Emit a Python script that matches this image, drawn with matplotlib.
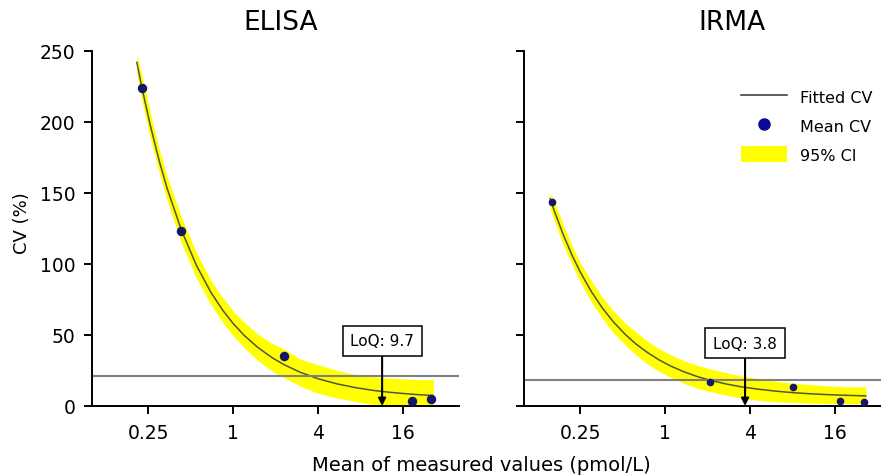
import matplotlib
matplotlib.use('Agg')
import matplotlib.pyplot as plt
from matplotlib.lines import Line2D
from matplotlib.patches import Patch

# ELISA
elisa_x = [0.225, 0.43, 2.3, 18.6, 25.3]
elisa_cv = [224, 123, 35.4, 3.7, 4.9]
elisa_fit_x = [0.208, 0.225, 0.26, 0.30, 0.34, 0.43, 0.55, 0.70, 0.85, 1.0, 1.2, 1.5,
               1.9, 2.3, 3.0, 4.0, 5.5, 7.5, 10, 13, 17, 21, 26.3]
elisa_fit = [242, 225, 197, 172.5, 153.6, 124, 99, 79.7, 67.1, 58.2, 49.7, 41.2,
             33.9, 29.1, 23.7, 19.2, 15.5, 12.8, 10.9, 9.6, 8.6, 7.9, 7.4]
elisa_lo = [234, 216, 188, 164, 145, 115, 90, 71, 58.5, 49.5, 41, 32,
            24.5, 20, 14, 9, 5.5, 3, 1, 0.5, 0, 0, 0]
elisa_hi = [247, 234, 206, 181, 162, 133, 108, 88, 76, 67, 59, 50.5,
            44, 40, 33, 29, 25, 22, 20.5, 19.5, 19, 18.5, 18.5]
elisa_limit = 21
elisa_loq = 9.7
elisa_loq_pos = 11.4

# IRMA
irma_x = [0.157, 2.07, 8.0, 17.4, 25.6]
irma_cv = [144, 17, 13.5, 3.6, 2.8]
irma_fit_x = [0.153, 0.165, 0.19, 0.22, 0.25, 0.30, 0.36, 0.43, 0.52, 0.62, 0.75, 0.9,
              1.1, 1.35, 1.7, 2.1, 2.7, 3.5, 4.5, 6, 8, 11, 15, 20, 26.4]
irma_fit = [146, 136.6, 120.4, 105.7, 94.4, 80.5, 68.8, 59.2, 50.5, 43.7, 37.6, 32.6,
            28.0, 24.2, 20.6, 18.0, 15.5, 13.4, 11.9, 10.5, 9.4, 8.5, 7.9, 7.45, 7.1]
irma_lo = [139, 129.5, 113.5, 99, 87.5, 73, 61.5, 51.5, 43, 36, 29.5, 24.5,
           20, 16, 12.5, 10, 7.5, 5.5, 4, 3, 2.5, 2, 1.8, 1.6, 1.6]
irma_hi = [150, 143.5, 127.5, 112.5, 101, 88, 76.5, 67, 58.5, 52, 45.5, 40.5,
           36, 32, 28.5, 26, 23.5, 21, 19.5, 17.5, 16, 15, 14, 13.5, 13.5]
irma_limit = 18
irma_loq = 3.8
irma_loq_pos = 3.68

xticks = [0.25, 1, 4, 16]
xtick_labels = ['0.25', '1', '4', '16']
yticks = [0, 50, 100, 150, 200, 250]

band_color = '#ffff00'
fit_color = '#55553a'
dot_color = '#16166a'

fig = plt.figure(figsize=(8.81, 4.77), dpi=100)
ax1 = fig.add_axes([0.1044, 0.1468, 0.4166, 0.7442])
ax2 = fig.add_axes([0.5948, 0.1468, 0.4052, 0.7442])


def draw_panel(ax, fx, fy, lo, hi, px, py, limit, loq, loq_pos, loq_y, ms, xmax):
    ax.fill_between(fx, lo, hi, color=band_color, linewidth=0, zorder=1)
    ax.plot(fx, fy, color=fit_color, lw=1.1, zorder=2)
    ax.plot(px, py, 'o', color=dot_color, ms=ms, zorder=3)
    ax.axhline(limit, color='#808080', lw=1.5, zorder=2)
    ax.annotate('LoQ: ' + str(loq), xy=(loq_pos, 0), xytext=(loq_pos, loq_y),
                ha='center', va='center', fontsize=11, zorder=5,
                bbox=dict(boxstyle='square,pad=0.5', fc='white', ec='black', lw=1.1),
                arrowprops=dict(arrowstyle='-|>', color='black', lw=1.5,
                                mutation_scale=11, shrinkA=0, shrinkB=0))
    ax.set_xscale('log', base=2)
    ax.set_xlim([0.1, xmax])
    ax.set_ylim([0, 250])
    ax.set_xticks(xticks)
    ax.set_xticklabels(xtick_labels)
    ax.minorticks_off()
    ax.set_yticks(yticks)
    ax.spines['top'].set_visible(False)
    ax.spines['right'].set_visible(False)
    ax.spines['left'].set_linewidth(1.4)
    ax.spines['bottom'].set_linewidth(1.4)
    ax.tick_params(axis='both', which='major', length=6, width=1.4, labelsize=13.5, pad=6)


draw_panel(ax1, elisa_fit_x, elisa_fit, elisa_lo, elisa_hi, elisa_x, elisa_cv,
           elisa_limit, elisa_loq, elisa_loq_pos, 45.8, 5.8, 40)
draw_panel(ax2, irma_fit_x, irma_fit, irma_lo, irma_hi, irma_x, irma_cv,
           irma_limit, irma_loq, irma_loq_pos, 44.3, 4.5, 33.8)
ax2.set_yticklabels([])

fig.text(0.3187, 0.952, 'ELISA', ha='center', va='center', fontsize=19)
fig.text(0.831, 0.952, 'IRMA', ha='center', va='center', fontsize=19)
fig.text(0.025, 0.532, 'CV (%)', ha='center', va='center', rotation=90, fontsize=13)
fig.text(0.546, 0.025, 'Mean of measured values (pmol/L)', ha='center', va='center', fontsize=14)

handles = [Line2D([], [], color='#333333', lw=1.1),
           Line2D([], [], marker='o', ls='', color='#0a0a9a', ms=8),
           Patch(facecolor=band_color, edgecolor='none')]
ax2.legend(handles, ['Fitted CV', 'Mean CV', '95% CI'], loc='upper left',
           bbox_to_anchor=(0.841, 0.812), bbox_transform=fig.transFigure,
           frameon=False, fontsize=11.5, handlelength=2.9, handleheight=1.1,
           handletextpad=0.8, labelspacing=0.8, borderpad=0, borderaxespad=0)

fig.savefig('out.png', dpi=100)
